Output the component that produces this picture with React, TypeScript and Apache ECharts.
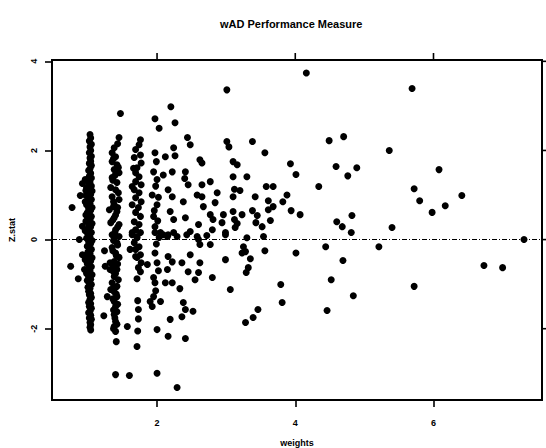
import React, { useEffect, useRef } from "react";
import * as echarts from "echarts";

const titleText = "wAD Performance Measure";
const xName = "weights";
const yName = "Z.stat";
const xTicks = [2, 4, 6];
const yTicks = [-2, 0, 2, 4];
const xMin = 0.48;
const xMax = 7.57;
const yMin = -3.6;
const yMax = 4.03;

// [weights, Z.stat]
const leftPoints: number[][] = [
  [0.77, 0.72], [0.89, 0.99], [0.92, 1.26], [0.875, 0.0], [0.92, -0.34],
  [0.75, -0.6], [0.86, -0.88], [0.95, -0.67], [0.92, 0.3], [0.96, -0.45],
];

const colOne: number[][] = [
  [1.03, 2.36], [1.04, 2.28], [1.02, 2.21], [1.05, 2.14], [1.03, 2.08], [1.04, 2.0],
  [1.02, 1.95], [1.05, 1.87], [1.03, 1.83], [1.04, 1.76], [1.02, 1.71], [1.05, 1.66],
  [1.03, 1.59], [1.01, 1.55], [1.04, 1.49], [1.02, 1.42], [1.05, 1.38], [0.99, 1.34],
  [1.03, 1.29], [1.01, 1.26], [1.05, 1.2], [0.98, 1.17], [1.03, 1.14], [1.06, 1.09],
  [1.0, 1.05], [1.04, 1.02], [0.97, 0.99], [1.02, 0.94], [1.05, 0.9], [1.0, 0.87],
  [1.03, 0.81], [0.98, 0.78], [1.06, 0.72], [1.01, 0.69], [1.04, 0.66], [0.99, 0.6],
  [1.02, 0.57], [1.05, 0.52], [1.0, 0.48], [1.03, 0.45], [0.97, 0.41], [1.06, 0.36],
  [1.01, 0.33], [1.04, 0.29], [0.99, 0.23], [1.02, 0.19], [1.05, 0.16], [1.0, 0.12],
  [1.03, 0.06], [0.98, 0.03], [1.06, -0.02], [1.01, -0.05], [1.04, -0.09], [0.99, -0.15],
  [1.02, -0.18], [1.05, -0.22], [1.0, -0.28], [1.03, -0.31], [0.97, -0.35], [1.06, -0.41],
  [1.01, -0.44], [1.04, -0.48], [0.99, -0.54], [1.02, -0.57], [1.05, -0.61], [1.0, -0.67],
  [1.03, -0.7], [0.98, -0.76], [1.06, -0.79], [1.01, -0.84], [1.04, -0.89], [0.99, -0.92],
  [1.02, -0.98], [1.05, -1.01], [1.0, -1.07], [1.03, -1.1], [1.01, -1.16], [1.04, -1.21],
  [1.02, -1.24], [1.05, -1.3], [1.03, -1.34], [1.01, -1.41], [1.04, -1.44], [1.02, -1.5],
  [1.05, -1.54], [1.03, -1.61], [1.01, -1.64], [1.04, -1.7], [1.02, -1.76], [1.05, -1.79],
  [1.03, -1.86], [1.04, -1.91], [1.03, -1.97], [1.04, -2.03],
  [0.96, 1.35], [0.97, 1.1], [0.96, 0.85], [0.97, 0.55], [0.96, 0.2],
];

const colTwo: number[][] = [
  [1.47, 2.83], [1.45, 2.29], [1.43, 2.15], [1.38, 2.06], [1.35, 1.95], [1.4, 1.86],
  [1.37, 1.82], [1.35, 1.75], [1.42, 1.68], [1.44, 1.62], [1.38, 1.57], [1.45, 1.5],
  [1.39, 1.44], [1.35, 1.39], [1.36, 1.33], [1.42, 1.28], [1.33, 1.17], [1.4, 1.12],
  [1.44, 1.05], [1.35, 0.96], [1.45, 0.9], [1.37, 0.85], [1.38, 0.78], [1.37, 0.74],
  [1.43, 0.72], [1.31, 0.67], [1.42, 0.63], [1.4, 0.55], [1.38, 0.49], [1.36, 0.44],
  [1.33, 0.38], [1.45, 0.34], [1.43, 0.28], [1.4, 0.22], [1.39, 0.16], [1.35, 0.11],
  [1.45, 0.07], [1.38, 0.04], [1.37, -0.02], [1.42, -0.07], [1.43, -0.12], [1.35, -0.18],
  [1.36, -0.25], [1.4, -0.3], [1.41, -0.36], [1.45, -0.4], [1.38, -0.49], [1.43, -0.55],
  [1.37, -0.6], [1.32, -0.67], [1.42, -0.67], [1.4, -0.76], [1.38, -0.83], [1.44, -0.9],
  [1.35, -0.97], [1.42, -1.05], [1.37, -1.1], [1.38, -1.17], [1.41, -1.22], [1.42, -1.28],
  [1.36, -1.33], [1.38, -1.39], [1.43, -1.45], [1.4, -1.5], [1.37, -1.58], [1.42, -1.62],
  [1.38, -1.68], [1.39, -1.76], [1.4, -1.84], [1.42, -1.9], [1.38, -1.95], [1.37, -2.0],
  [1.4, -2.06], [1.41, -2.29],
  [1.24, -0.25], [1.25, -0.6], [1.28, -1.28], [1.23, -1.71], [1.32, -0.52], [1.33, -1.12],
  [1.37, -0.72], [1.4, -3.03], [1.6, -3.05], [1.57, -1.95], [1.71, -2.4],
];

const colThree: number[][] = [
  [1.76, 2.24], [1.74, 2.13], [1.69, 2.02], [1.76, 1.9], [1.67, 1.84], [1.77, 1.72],
  [1.71, 1.61], [1.66, 1.6], [1.69, 1.5], [1.74, 1.41], [1.69, 1.3], [1.77, 1.23],
  [1.64, 1.19], [1.67, 1.12], [1.74, 1.05], [1.69, 0.94], [1.77, 0.85], [1.64, 0.78],
  [1.73, 0.72], [1.69, 0.61], [1.76, 0.52], [1.67, 0.4], [1.74, 0.34], [1.69, 0.22],
  [1.76, 0.16], [1.64, 0.16], [1.71, 0.07], [1.64, 0.11], [1.71, 0.04], [1.67, -0.07],
  [1.74, -0.16], [1.69, -0.22], [1.61, -0.22], [1.76, -0.34], [1.69, -0.38], [1.71, -0.4],
  [1.77, -0.52], [1.73, -0.63], [1.76, -0.72], [1.71, -0.88], [1.72, -1.37], [1.73, -1.57],
  [1.73, -1.78], [1.72, -2.05],
];

const midPoints: number[][] = [
  [2.2, 2.98], [1.97, 2.71], [2.26, 2.62], [2.03, 2.5], [2.44, 2.29], [2.48, 2.13],
  [2.24, 2.06], [1.97, 1.95], [2.12, 1.86], [2.26, 1.88], [2.62, 1.79], [2.65, 1.72],
  [1.99, 1.75], [1.95, 1.52], [2.09, 1.45], [2.22, 1.52], [2.41, 1.52], [2.0, 1.35],
  [2.4, 1.37], [2.45, 1.23], [2.65, 1.23], [2.77, 1.3], [1.98, 1.2], [1.93, 1.0],
  [2.16, 1.12], [2.22, 0.96], [2.02, 0.95], [2.38, 0.85], [2.58, 1.0], [2.65, 0.96],
  [2.87, 1.05], [2.84, 0.83], [2.67, 0.74], [2.0, 0.78], [1.96, 0.65], [2.19, 0.63],
  [1.95, 0.52], [2.01, 0.42], [2.24, 0.45], [2.41, 0.49], [2.6, 0.34], [2.77, 0.56],
  [2.81, 0.45], [2.8, 0.22], [2.96, 0.56], [2.94, 0.38], [2.99, 0.16], [1.97, 0.29],
  [2.48, 0.18], [2.58, 0.07], [2.72, 0.09], [3.01, 2.2], [3.04, 2.08], [3.01, 3.36],
  [3.1, 1.75], [3.1, 1.41], [3.12, 1.13],
  [1.97, 0.16], [2.05, 0.16], [2.09, 0.11], [2.16, 0.11], [2.15, 0.07], [2.24, 0.16],
  [2.29, 0.07], [2.43, 0.11], [2.03, 0.05], [2.6, 0.0], [2.62, -0.11], [2.77, -0.11],
  [2.99, 0.11], [1.99, -0.1], [1.97, -0.3], [1.86, -0.56], [2.0, -0.52], [2.16, -0.38],
  [2.22, -0.5], [2.15, -0.67], [2.02, -0.7], [2.36, -0.52], [2.48, -0.34], [2.62, -0.52],
  [2.45, -0.72], [2.6, -0.74], [2.55, -0.9], [2.8, -0.85], [2.99, -0.45], [1.95, -0.85],
  [1.97, -0.97], [2.12, -0.97], [2.22, -0.97], [1.98, -1.15], [2.33, -1.1], [3.06, -1.12],
  [1.95, -1.28], [1.9, -1.39], [2.05, -1.39], [1.93, -1.5], [2.38, -1.41], [2.41, -1.57],
  [2.52, -1.61], [2.36, -1.73], [2.19, -1.79], [2.0, -2.02], [2.16, -2.17], [2.41, -2.22],
  [2.0, -3.0], [2.29, -3.32],
];

const farPoints: number[][] = [
  [4.16, 3.74], [3.38, 2.2], [4.49, 2.22], [3.56, 1.95], [3.16, 1.68], [3.93, 1.7],
  [4.59, 1.64], [3.3, 1.41], [4.01, 1.46], [3.2, 1.1], [3.58, 1.19], [3.68, 1.19],
  [4.34, 1.19], [3.1, 0.96], [3.42, 0.96], [3.88, 1.0], [3.61, 0.87], [3.82, 0.85],
  [3.68, 0.74], [3.1, 0.63], [3.23, 0.56], [3.38, 0.65], [3.45, 0.54], [3.61, 0.67],
  [3.94, 0.65], [4.07, 0.56], [3.12, 0.45], [3.16, 0.36], [3.43, 0.38], [3.64, 0.43],
  [3.13, 0.27], [3.52, 0.29], [4.6, 0.4], [3.3, 0.04], [3.54, 0.07],
  [3.25, -0.16], [3.23, -0.3], [3.28, -0.27], [3.35, -0.43], [3.56, -0.25], [4.01, -0.3],
  [4.44, -0.16], [3.32, -0.63], [3.29, -0.74], [3.79, -1.01], [4.52, -0.9], [3.81, -1.41],
  [3.46, -1.57], [3.39, -1.75], [3.28, -1.86], [4.46, -1.59],
  [4.7, 2.31], [5.36, 2.0], [4.89, 1.61], [4.76, 1.43], [4.82, 0.54], [4.68, 0.29],
  [4.81, 0.16], [5.4, 0.27], [5.21, -0.16], [4.69, -0.47], [4.84, -1.26], [5.69, 3.39],
  [6.08, 1.57], [5.72, 1.14], [5.8, 0.87], [5.98, 0.61], [6.17, 0.76], [6.41, 0.99],
  [7.31, 0.0], [6.73, -0.58], [7.0, -0.63], [5.72, -1.05],
];

const FONT = "Liberation Sans, Arial, sans-serif";

export default function App() {
  const ref = useRef<HTMLDivElement>(null);
  useEffect(() => {
    document.body.style.margin = "0";
    const chart = echarts.init(ref.current!, null, { renderer: "svg" });
    const allPoints = [...leftPoints, ...colOne, ...colTwo, ...colThree, ...midPoints, ...farPoints];
    const tickStyle = { color: "#000", width: 1.6 };
    const labelStyle = { color: "#000", fontSize: 9, fontWeight: "bold" as const, fontFamily: FONT };
    const TICK_LEN = 7;
    chart.setOption({
      animation: false,
      backgroundColor: "#fff",
      title: {
        text: titleText,
        left: 215,
        top: 13,
        textStyle: { color: "#000", fontSize: 11, fontWeight: "bold", fontFamily: FONT },
      },
      grid: {
        left: 52,
        right: 4,
        top: 60,
        bottom: 48,
        show: true,
        borderColor: "#000",
        borderWidth: 2,
        backgroundColor: "transparent",
        containLabel: false,
        outerBoundsMode: "none",
      },
      xAxis: {
        type: "value",
        position: "bottom",
        min: xMin,
        max: xMax,
        name: xName,
        nameLocation: "middle",
        nameGap: 38,
        nameTextStyle: { ...labelStyle },
        axisLine: { show: true, onZero: false, lineStyle: { color: "#000", width: 2 } },
        axisTick: { show: true, length: TICK_LEN, customValues: xTicks, lineStyle: tickStyle },
        axisLabel: { customValues: xTicks, margin: 18, ...labelStyle },
        splitLine: { show: false },
      },
      yAxis: {
        type: "value",
        position: "left",
        min: yMin,
        max: yMax,
        name: yName,
        nameLocation: "middle",
        nameGap: 36,
        nameRotate: 90,
        nameTextStyle: { ...labelStyle },
        axisLine: { show: true, onZero: false, lineStyle: { color: "#000", width: 2 } },
        axisTick: { show: true, length: TICK_LEN, customValues: yTicks, lineStyle: tickStyle },
        axisLabel: { customValues: yTicks, rotate: 90, margin: 14, ...labelStyle },
        splitLine: { show: false },
      },
      series: [
        {
          type: "scatter",
          data: allPoints,
          symbol: "circle",
          symbolSize: 7,
          itemStyle: { color: "#000", opacity: 1 },
          markLine: {
            silent: true,
            symbol: "none",
            label: { show: false },
            lineStyle: { color: "#000", type: [5, 2, 1, 2], width: 1.2 },
            data: [{ yAxis: 0 }],
          },
        },
        {
          // top-side axis ticks
          type: "custom",
          coordinateSystem: "cartesian2d",
          clip: false,
          silent: true,
          encode: { x: 0, y: 1 },
          data: xTicks.map((v) => [v, yMax]),
          renderItem: (params: any, api: any) => {
            const p = api.coord([api.value(0), api.value(1)]);
            return {
              type: "line",
              shape: { x1: p[0], y1: p[1], x2: p[0], y2: p[1] - TICK_LEN },
              style: { stroke: "#000", lineWidth: 1.6 },
            };
          },
        },
        {
          // right-side axis ticks
          type: "custom",
          coordinateSystem: "cartesian2d",
          clip: false,
          silent: true,
          encode: { x: 0, y: 1 },
          data: yTicks.map((v) => [xMax, v]),
          renderItem: (params: any, api: any) => {
            const p = api.coord([api.value(0), api.value(1)]);
            return {
              type: "line",
              shape: { x1: p[0], y1: p[1], x2: p[0] + TICK_LEN, y2: p[1] },
              style: { stroke: "#000", lineWidth: 1.6 },
            };
          },
        },
      ],
    });
    return () => chart.dispose();
  }, []);
  return <div ref={ref} style={{ width: 546, height: 448 }} />;
}
